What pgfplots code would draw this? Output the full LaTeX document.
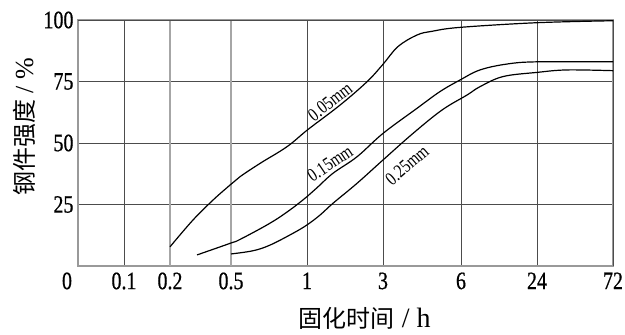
\documentclass[border=0pt]{standalone}
\usepackage{fontspec}
\setmainfont{Liberation Serif}
\newfontfamily\cond{Liberation Serif}[FakeStretch=0.8,FakeBold=0.6]
\newfontfamily\condl{Liberation Serif}[FakeStretch=0.8]
\newfontfamily\cjk{Noto Sans CJK SC}
\usepackage{pgfplots}
\pgfplotsset{compat=1.18}
\begin{document}
\begin{tikzpicture}
\path[use as bounding box] (-78bp,-69bp) rectangle (547bp,266bp);
\begin{axis}[
  scale only axis,
  width=535bp, height=246bp,
  xmin=0, xmax=535, ymin=0, ymax=100,
  /pgf/number format/assume math mode=true,
  xtick={46,92,153,229,305,383,459,535},
  xticklabels={0.1,0.2,0.5,1,3,6,24,72},
  extra x ticks={0},
  extra x tick labels={0},
  extra x tick style={grid=none, xticklabel style={xshift=-11bp}},
  ytick={25,50,75,100},
  yticklabels={25,50,75,100},
  major tick length=0pt,
  grid=major,
  major grid style={black!70, line width=0.7bp},
  axis line style={black!40, line width=1.3bp},
  tick label style={font=\cond\fontsize{25bp}{25bp}\selectfont},
  xticklabel style={yshift=-3bp},
  yticklabel style={xshift=-1bp},
  xlabel={\cjk\fontsize{24bp}{24bp}\selectfont 固化时间{\rmfamily\fontsize{28bp}{28bp}\selectfont\ /\ h}},
  ylabel={\cjk\fontsize{24bp}{24bp}\selectfont 钢件强度{\rmfamily\fontsize{26bp}{26bp}\selectfont\ /\ \%}},
  x label style={at={(axis description cs:0.536,-0.211)}, anchor=center},
  y label style={at={(axis description cs:-0.101,0.565)}, anchor=center, rotate=0},
  clip=false,
]
\draw[black!35, line width=2bp] (axis cs:92,0) -- (axis cs:92,100);
\draw[black!35, line width=2bp] (axis cs:153,0) -- (axis cs:153,100);
\draw[black!70, line width=0.9bp] (axis cs:0,100) -- (axis cs:535,100) -- (axis cs:535,0);
\addplot[black, line width=1.2bp, smooth, tension=0.6] coordinates {
(92,7.8) (115,18.7) (135,26.8) (152,32.9) (162,36.3) (182,41.7) (209,48.5) (230,55.5) (262,65.4) (289,74.9) (305,82.0) (320,89.2) (339,93.9) (354,95.4) (382,97.0) (459,98.9) (535,99.7)};
\addplot[black, line width=1.2bp, smooth, tension=0.6] coordinates {
(119,4.5) (152,9.2) (162,10.8) (192,17.4) (212,22.8) (229,28.2) (239,31.8) (255,37.7) (279,44.4) (305,53.9) (339,64.1) (362,70.9) (382,75.6) (402,79.7) (429,82.1) (459,83.0) (535,83.0)};
\addplot[black, line width=1.2bp, smooth, tension=0.6] coordinates {
(153,4.9) (175,6.2) (192,8.5) (215,13.3) (229,16.7) (242,20.7) (255,25.5) (279,33.6) (305,43.1) (335,53.9) (364,63.4) (389,69.5) (402,72.9) (425,77.0) (459,78.7) (489,79.7) (535,79.4)};
\node[font=\condl\fontsize{19bp}{19bp}\selectfont, rotate=38, inner sep=0pt] at (axis cs:252,66.8) {0.05mm};
\node[font=\condl\fontsize{19bp}{19bp}\selectfont, rotate=34, inner sep=0pt] at (axis cs:252,41.7) {0.15mm};
\node[font=\condl\fontsize{19bp}{19bp}\selectfont, rotate=41, inner sep=0pt] at (axis cs:329,41) {0.25mm};
\end{axis}
\end{tikzpicture}
\end{document}
